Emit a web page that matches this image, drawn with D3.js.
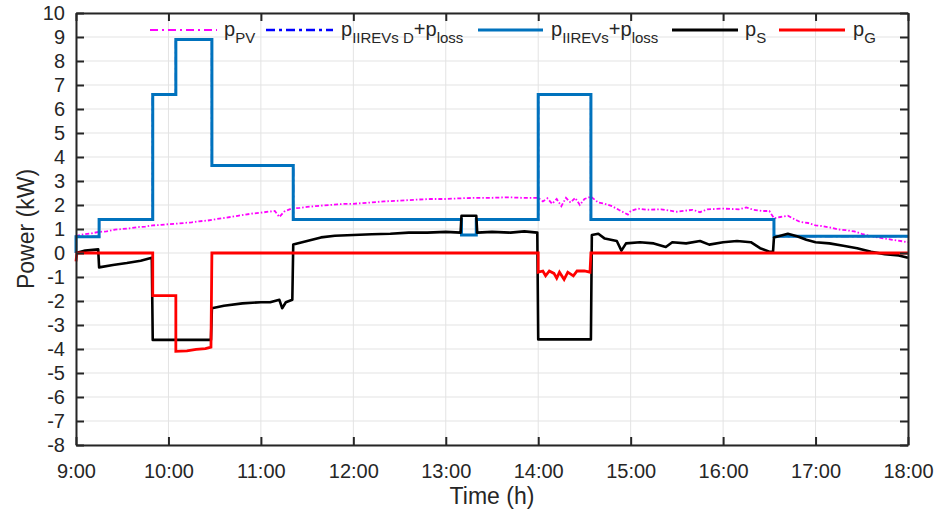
<!DOCTYPE html>
<html>
<head>
<meta charset="utf-8">
<script src="https://cdn.jsdelivr.net/npm/d3@7"></script>
<style>
  body { margin: 0; background: #fff; }
  svg { font-family: "Liberation Sans", Arial, sans-serif; }
</style>
</head>
<body>
<div id="container"></div>
<script>
/* DATA (time in hours, power in kW) */
const xTickLabels = ["9:00", "10:00", "11:00", "12:00", "13:00", "14:00", "15:00", "16:00", "17:00", "18:00"];
const yTickValues = [-8, -7, -6, -5, -4, -3, -2, -1, 0, 1, 2, 3, 4, 5, 6, 7, 8, 9, 10];

const pPV = [
  [9.00, 0.70], [9.08, 0.78], [9.17, 0.82], [9.25, 0.88], [9.33, 0.90], [9.42, 0.97], [9.50, 1.00],
  [9.58, 1.03], [9.67, 1.08], [9.75, 1.10], [9.83, 1.15], [9.92, 1.17], [10.00, 1.20], [10.08, 1.22],
  [10.17, 1.25], [10.25, 1.28], [10.33, 1.32], [10.42, 1.35], [10.50, 1.40], [10.58, 1.45], [10.67, 1.50],
  [10.75, 1.55], [10.83, 1.60], [10.92, 1.65], [11.00, 1.68], [11.08, 1.72], [11.15, 1.75], [11.20, 1.50],
  [11.25, 1.72], [11.33, 1.85], [11.42, 1.88], [11.50, 1.92], [11.58, 1.95], [11.67, 1.98], [11.75, 2.00],
  [11.83, 2.03], [11.92, 2.05], [12.00, 2.05], [12.17, 2.10], [12.33, 2.15], [12.50, 2.18], [12.67, 2.22],
  [12.83, 2.25], [13.00, 2.25], [13.17, 2.28], [13.33, 2.30], [13.50, 2.30], [13.67, 2.32], [13.83, 2.30],
  [14.00, 2.30], [14.05, 2.15], [14.10, 2.28], [14.15, 2.05], [14.20, 2.25], [14.25, 1.95], [14.30, 2.30],
  [14.35, 2.10], [14.40, 2.30], [14.45, 2.00], [14.50, 2.25], [14.57, 2.35], [14.65, 2.10], [14.72, 2.05],
  [14.80, 1.95], [14.87, 1.80], [14.92, 1.70], [14.97, 1.60], [15.00, 1.75], [15.08, 1.85], [15.17, 1.80],
  [15.33, 1.82], [15.50, 1.72], [15.67, 1.80], [15.75, 1.70], [15.83, 1.82], [16.00, 1.85], [16.17, 1.82],
  [16.25, 1.90], [16.33, 1.80], [16.42, 1.75], [16.50, 1.75], [16.55, 1.45], [16.62, 1.50], [16.70, 1.55],
  [16.75, 1.45], [16.83, 1.30], [16.92, 1.25], [17.00, 1.15], [17.08, 1.12], [17.17, 1.05], [17.25, 0.98],
  [17.33, 0.95], [17.42, 0.90], [17.50, 0.80], [17.58, 0.72], [17.67, 0.65], [17.75, 0.60], [17.83, 0.55],
  [17.92, 0.50], [18.00, 0.45]
];

const pIIREVsD = [
  [9.00, 0], [9.00, 0.68], [9.25, 0.68], [9.25, 1.4], [9.83, 1.4], [9.83, 6.6], [10.08, 6.6], [10.08, 8.9],
  [10.47, 8.9], [10.47, 3.65], [11.35, 3.65], [11.35, 1.4], [13.17, 1.4], [13.17, 0.75], [13.33, 0.75],
  [13.33, 1.4], [14.00, 1.4], [14.00, 6.6], [14.57, 6.6], [14.57, 1.4], [16.55, 1.4], [16.55, 0.7], [18.00, 0.7]
];

const pIIREVs = [
  [9.00, 0], [9.00, 0.68], [9.25, 0.68], [9.25, 1.4], [9.83, 1.4], [9.83, 6.6], [10.08, 6.6], [10.08, 8.9],
  [10.47, 8.9], [10.47, 3.65], [11.35, 3.65], [11.35, 1.4], [13.17, 1.4], [13.17, 0.75], [13.33, 0.75],
  [13.33, 1.4], [14.00, 1.4], [14.00, 6.6], [14.57, 6.6], [14.57, 1.4], [16.55, 1.4], [16.55, 0.7], [18.00, 0.7]
];

const pS = [
  [9.00, 0.00], [9.10, 0.10], [9.24, 0.15], [9.25, -0.60], [9.40, -0.50], [9.55, -0.42], [9.70, -0.32],
  [9.82, -0.20], [9.83, -3.62], [10.46, -3.62], [10.47, -2.30], [10.60, -2.20], [10.80, -2.10], [11.00, -2.05],
  [11.10, -2.05], [11.20, -1.95], [11.23, -2.30], [11.27, -2.05], [11.34, -1.95], [11.35, 0.35], [11.50, 0.50],
  [11.65, 0.65], [11.80, 0.72], [12.00, 0.75], [12.20, 0.78], [12.40, 0.80], [12.60, 0.85], [12.80, 0.85],
  [13.00, 0.88], [13.16, 0.85], [13.17, 1.55], [13.33, 1.55], [13.34, 0.85], [13.50, 0.88], [13.70, 0.85],
  [13.85, 0.90], [13.99, 0.85], [14.00, -3.60], [14.57, -3.60], [14.58, 0.75], [14.65, 0.80], [14.72, 0.60],
  [14.85, 0.50], [14.90, 0.10], [14.95, 0.40], [15.10, 0.45], [15.25, 0.40], [15.38, 0.25], [15.45, 0.45],
  [15.60, 0.40], [15.75, 0.50], [15.85, 0.35], [16.00, 0.45], [16.15, 0.50], [16.30, 0.45], [16.40, 0.20],
  [16.50, 0.05], [16.54, 0.05], [16.55, 0.65], [16.70, 0.80], [16.80, 0.70], [16.90, 0.55], [17.00, 0.45],
  [17.15, 0.40], [17.30, 0.30], [17.45, 0.20], [17.60, 0.05], [17.75, -0.05], [17.90, -0.10], [18.00, -0.20]
];

const pG = [
  [9.00, -0.35], [9.01, 0.00], [9.83, 0.00], [9.83, -1.78], [10.08, -1.78], [10.08, -4.10], [10.20, -4.08],
  [10.30, -4.02], [10.40, -3.98], [10.46, -3.92], [10.47, 0.00], [14.00, 0.00], [14.00, -0.80], [14.05, -0.75],
  [14.08, -0.95], [14.12, -0.75], [14.17, -0.85], [14.20, -1.05], [14.23, -0.80], [14.28, -1.10], [14.32, -0.80],
  [14.38, -0.95], [14.42, -0.75], [14.50, -0.75], [14.56, -0.80], [14.57, 0.00], [18.00, 0.00]
];

/* CONSTANTS */
const width = 938,
  height = 512,
  margin = { top: 13, bottom: 67, left: 76, right: 30 };

const xScale = d3.scaleLinear()
  .domain([9, 18])
  .range([margin.left, width - margin.right]);

const yScale = d3.scaleLinear()
  .domain([-8, 10])
  .range([height - margin.bottom, margin.top]);

const svg = d3.select("#container")
  .append("svg")
  .attr("width", width)
  .attr("height", height);

// GRID
const hourTicks = d3.range(9, 19);
svg.append("g")
  .attr("class", "grid")
  .selectAll("line.v")
  .data(hourTicks)
  .join("line")
  .attr("x1", d => xScale(d)).attr("x2", d => xScale(d))
  .attr("y1", yScale(-8)).attr("y2", yScale(10))
  .attr("stroke", "#e3e3e3").attr("stroke-width", 1);

svg.append("g")
  .attr("class", "grid")
  .selectAll("line.h")
  .data(yTickValues)
  .join("line")
  .attr("x1", xScale(9)).attr("x2", xScale(18))
  .attr("y1", d => yScale(d)).attr("y2", d => yScale(d))
  .attr("stroke", "#e3e3e3").attr("stroke-width", 1);

// CLIP
svg.append("clipPath").attr("id", "plot")
  .append("rect")
  .attr("x", margin.left - 2).attr("y", margin.top)
  .attr("width", width - margin.left - margin.right + 4)
  .attr("height", height - margin.top - margin.bottom);

const line = d3.line()
  .x(d => xScale(d[0]))
  .y(d => yScale(d[1]));

const lines = svg.append("g").attr("clip-path", "url(#plot)");

lines.append("path").datum(pPV)
  .attr("d", line).attr("fill", "none")
  .attr("stroke", "#ff00ff").attr("stroke-width", 1.8)
  .attr("stroke-dasharray", "4,2,1.5,2");

lines.append("path").datum(pIIREVsD)
  .attr("d", line).attr("fill", "none")
  .attr("stroke", "#0000ff").attr("stroke-width", 2)
  .attr("stroke-dasharray", "8,3,2,3");

lines.append("path").datum(pIIREVs)
  .attr("d", line).attr("fill", "none")
  .attr("stroke", "#0072bd").attr("stroke-width", 3);

lines.append("path").datum(pS)
  .attr("d", line).attr("fill", "none")
  .attr("stroke", "#000").attr("stroke-width", 2.6)
  .attr("stroke-linejoin", "round");

lines.append("path").datum(pG)
  .attr("d", line).attr("fill", "none")
  .attr("stroke", "#ff0000").attr("stroke-width", 2.8);

// AXES (box with inward ticks)
const xAxis = d3.axisBottom(xScale)
  .tickValues(hourTicks)
  .tickFormat((d, i) => xTickLabels[i])
  .tickSizeInner(-8).tickSizeOuter(0).tickPadding(19);

const yAxis = d3.axisLeft(yScale)
  .tickValues(yTickValues)
  .tickFormat(d => String(d))
  .tickSizeInner(-8).tickSizeOuter(0).tickPadding(11);

const xAxisGroup = svg.append("g")
  .attr("transform", `translate(0, ${height - margin.bottom})`)
  .call(xAxis);

const yAxisGroup = svg.append("g")
  .attr("transform", `translate(${margin.left}, 0)`)
  .call(yAxis);

const xTop = svg.append("g")
  .attr("transform", `translate(0, ${margin.top})`)
  .call(d3.axisTop(xScale).tickValues(hourTicks).tickFormat("").tickSizeInner(-8).tickSizeOuter(0));

const yRight = svg.append("g")
  .attr("transform", `translate(${width - margin.right}, 0)`)
  .call(d3.axisRight(yScale).tickValues(yTickValues).tickFormat("").tickSizeInner(-8).tickSizeOuter(0));

[xAxisGroup, yAxisGroup, xTop, yRight].forEach(g => {
  g.select(".domain").attr("stroke", "#262626").attr("stroke-width", 2);
  g.selectAll(".tick line").attr("stroke", "#262626").attr("stroke-width", 2);
  g.selectAll(".tick text")
    .attr("fill", "#262626")
    .style("font-size", "20px")
    .style("font-family", "'Liberation Sans', Arial, sans-serif");
});

// AXIS TITLES
svg.append("text")
  .attr("x", (margin.left + width - margin.right) / 2)
  .attr("y", 504)
  .style("text-anchor", "middle")
  .style("font-size", "23px")
  .attr("fill", "#262626")
  .text("Time (h)");

svg.append("text")
  .attr("transform", `translate(34, 229) rotate(-90)`)
  .style("text-anchor", "middle")
  .style("font-size", "23px")
  .attr("fill", "#262626")
  .text("Power (kW)");

// LEGEND
const legendItems = [
  { x1: 150, x2: 217, color: "#ff00ff", w: 2, dash: "8,4,2,4", tx: 224, parts: [["p", 0], ["PV", 1]] },
  { x1: 266, x2: 333, color: "#0000ff", w: 2.5, dash: "9,4,3,4", tx: 341, parts: [["p", 0], ["IIREVs D", 1], ["+p", 0], ["loss", 1]] },
  { x1: 478, x2: 543, color: "#0072bd", w: 3, dash: null, tx: 551, parts: [["p", 0], ["IIREVs", 1], ["+p", 0], ["loss", 1]] },
  { x1: 672, x2: 738, color: "#000000", w: 3, dash: null, tx: 745, parts: [["p", 0], ["S", 1]] },
  { x1: 779, x2: 845, color: "#ff0000", w: 3, dash: null, tx: 853, parts: [["p", 0], ["G", 1]] }
];
const legendY = 30;

const legend = svg.append("g").attr("class", "legend");
legendItems.forEach(item => {
  legend.append("line")
    .attr("x1", item.x1).attr("x2", item.x2)
    .attr("y1", legendY).attr("y2", legendY)
    .attr("stroke", item.color).attr("stroke-width", item.w)
    .attr("stroke-dasharray", item.dash);
  const t = legend.append("text")
    .attr("x", item.tx).attr("y", legendY + 6)
    .attr("fill", "#262626");
  let sub = false;
  item.parts.forEach(([s, isSub]) => {
    const dy = isSub && !sub ? 7 : (!isSub && sub ? -7 : 0);
    t.append("tspan")
      .attr("dy", dy)
      .style("font-size", isSub ? "15px" : "20px")
      .text(s);
    sub = !!isSub;
  });
});
</script>
</body>
</html>
